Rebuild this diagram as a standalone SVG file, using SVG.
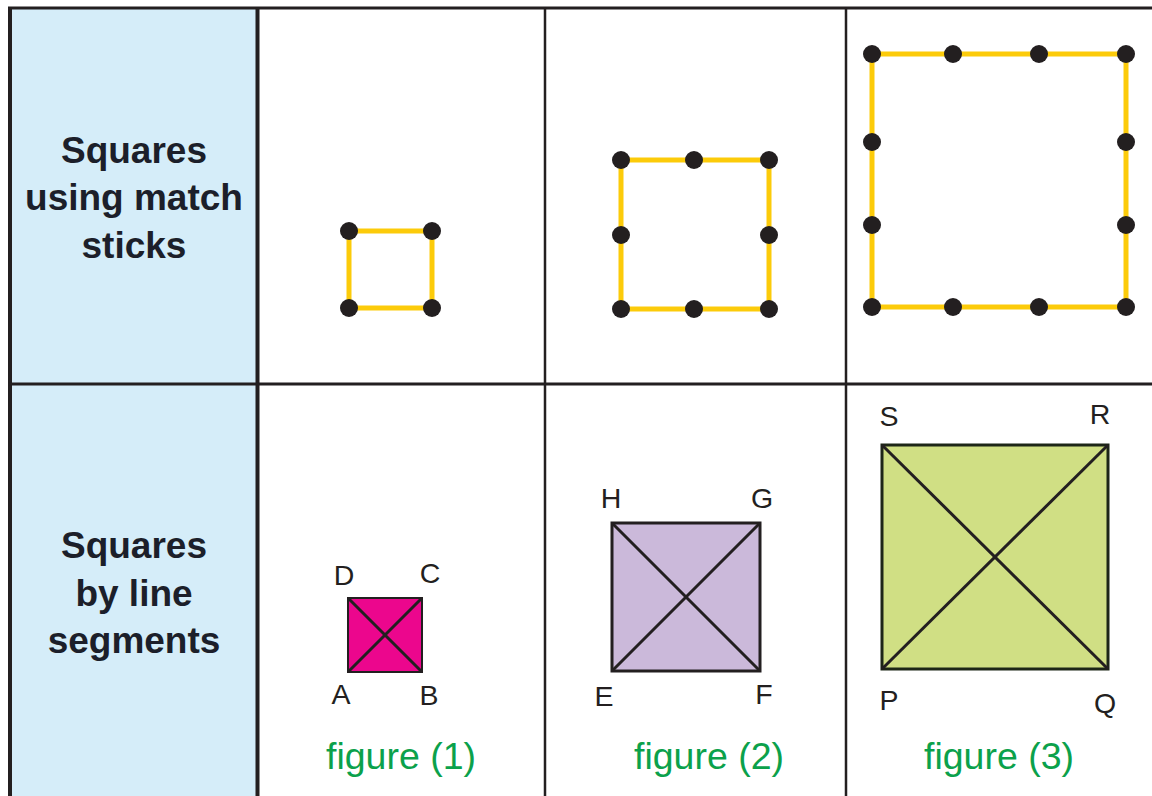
<svg xmlns="http://www.w3.org/2000/svg" width="1152" height="796" viewBox="0 0 1152 796">
<style>
.hdr{font-family:"Liberation Sans",Arial,sans-serif;font-weight:bold;font-size:37px;fill:#1c1f2a;text-anchor:middle}
.lbl{font-family:"Liberation Sans",Arial,sans-serif;font-size:28.5px;fill:#231f20;text-anchor:middle}
.cap{font-family:"Liberation Sans",Arial,sans-serif;font-size:37.5px;fill:#0ba14b;text-anchor:middle}
.stick{fill:none;stroke:#fccb0a;stroke-width:5}
.dot{fill:#231f20}
.diag{stroke:#231f20;stroke-width:3;fill:none}
.grid{stroke:#231f20;fill:none}
</style>
<rect x="0" y="0" width="1152" height="796" fill="#ffffff"/>
<rect x="11" y="9" width="246" height="787" fill="#d5edf9"/>
<g id="grid">
<line class="grid" x1="8" y1="8" x2="1152" y2="8" stroke-width="3"/>
<line class="grid" x1="10" y1="8" x2="10" y2="796" stroke-width="4"/>
<line class="grid" x1="257.5" y1="8" x2="257.5" y2="796" stroke-width="4"/>
<line class="grid" x1="545" y1="8" x2="545" y2="796" stroke-width="2.5"/>
<line class="grid" x1="846" y1="8" x2="846" y2="796" stroke-width="2.5"/>
<line class="grid" x1="8" y1="384" x2="1152" y2="384" stroke-width="3"/>
</g>
<g id="header-row1">
<text class="hdr" x="134" y="163">Squares</text>
<text class="hdr" x="134" y="210">using match</text>
<text class="hdr" x="134" y="258">sticks</text>
</g>
<g id="header-row2">
<text class="hdr" x="134" y="558">Squares</text>
<text class="hdr" x="134" y="606">by line</text>
<text class="hdr" x="134" y="653">segments</text>
</g>
<g id="match1">
<rect class="stick" x="349" y="231" width="83" height="77"/>
<circle class="dot" cx="349" cy="231" r="9"/>
<circle class="dot" cx="432" cy="231" r="9"/>
<circle class="dot" cx="349" cy="308" r="9"/>
<circle class="dot" cx="432" cy="308" r="9"/>
</g>
<g id="match2">
<rect class="stick" x="621" y="160" width="148" height="149"/>
<circle class="dot" cx="621" cy="160" r="9"/>
<circle class="dot" cx="694" cy="160" r="9"/>
<circle class="dot" cx="769" cy="160" r="9"/>
<circle class="dot" cx="621" cy="235" r="9"/>
<circle class="dot" cx="769" cy="235" r="9"/>
<circle class="dot" cx="621" cy="309" r="9"/>
<circle class="dot" cx="694" cy="309" r="9"/>
<circle class="dot" cx="769" cy="309" r="9"/>
</g>
<g id="match3">
<rect class="stick" x="872" y="54" width="254" height="253"/>
<circle class="dot" cx="872" cy="54" r="9"/>
<circle class="dot" cx="953" cy="54" r="9"/>
<circle class="dot" cx="1039" cy="54" r="9"/>
<circle class="dot" cx="1126" cy="54" r="9"/>
<circle class="dot" cx="872" cy="142" r="9"/>
<circle class="dot" cx="1126" cy="142" r="9"/>
<circle class="dot" cx="872" cy="225" r="9"/>
<circle class="dot" cx="1126" cy="225" r="9"/>
<circle class="dot" cx="872" cy="307" r="9"/>
<circle class="dot" cx="953" cy="307" r="9"/>
<circle class="dot" cx="1039" cy="307" r="9"/>
<circle class="dot" cx="1126" cy="307" r="9"/>
</g>
<g id="figure1">
<rect x="348" y="598" width="74" height="74" fill="#ec068d" stroke="#231f20" stroke-width="2"/>
<line class="diag" x1="348" y1="598" x2="422" y2="672" stroke-width="2.5"/>
<line class="diag" x1="422" y1="598" x2="348" y2="672" stroke-width="2.5"/>
<text class="lbl" x="344" y="585">D</text>
<text class="lbl" x="430" y="583">C</text>
<text class="lbl" x="341" y="704">A</text>
<text class="lbl" x="429" y="705">B</text>
<text class="cap" x="401" y="769">figure (1)</text>
</g>
<g id="figure2">
<rect x="612" y="523" width="148" height="148" fill="#cbb9da" stroke="#231f20" stroke-width="3"/>
<line class="diag" x1="612" y1="523" x2="760" y2="671"/>
<line class="diag" x1="760" y1="523" x2="612" y2="671"/>
<text class="lbl" x="611" y="508">H</text>
<text class="lbl" x="762" y="508">G</text>
<text class="lbl" x="604" y="706">E</text>
<text class="lbl" x="764" y="704">F</text>
<text class="cap" x="709" y="769">figure (2)</text>
</g>
<g id="figure3">
<rect x="882" y="445" width="226" height="224" fill="#d0df84" stroke="#1d2617" stroke-width="3"/>
<line class="diag" x1="882" y1="445" x2="1108" y2="669" stroke="#1d2617"/>
<line class="diag" x1="1108" y1="445" x2="882" y2="669" stroke="#1d2617"/>
<text class="lbl" x="889" y="426">S</text>
<text class="lbl" x="1100" y="424">R</text>
<text class="lbl" x="889" y="710">P</text>
<text class="lbl" x="1105" y="713">Q</text>
<text class="cap" x="999" y="769">figure (3)</text>
</g>
</svg>
